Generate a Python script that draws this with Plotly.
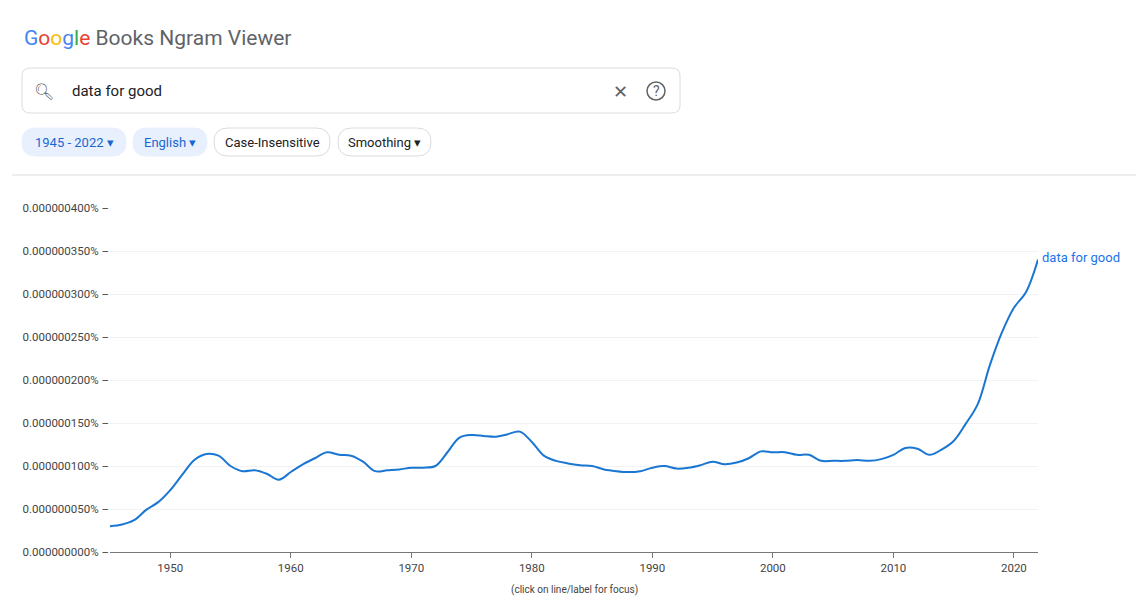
import plotly.graph_objects as go

years = list(range(1945, 2023))
# frequency in units of 1e-9 percent
freq = [30, 32, 37, 49, 58, 72, 90, 107, 114, 112,
        100, 94, 95, 91, 84, 93, 102, 109, 116, 113,
        112, 105, 94, 95, 96, 98, 98, 100, 116, 133,
        136, 135, 134, 137, 140, 128, 112, 106, 103, 101,
        100, 96, 94, 93, 94, 98, 100, 97, 98, 101,
        105, 102, 104, 109, 117, 116, 116, 113, 113, 106,
        106, 106, 107, 106, 108, 113, 121, 120, 113, 119,
        129, 149, 172, 217, 255, 284, 302, 340]
ytick_vals = [0, 50, 100, 150, 200, 250, 300, 350, 400]
ytick_text = ['0.000000%03d%% –' % v if v else '0.000000000% –' for v in ytick_vals]
series_name = 'data for good'

BLUE = '#1a73e8'
OFF = 8  # page body margin
W, H = 1144 - OFF, 610 - OFF
L, R, T, B = 110, 1038, 208, 552


def px(x):
    return (x - L) / (R - L)


def py(y):
    return (B - y) / (B - T)


def rrect(x0, y0, x1, y1, r):
    # rounded rect in pixel coordinates -> paper path
    X0, X1 = px(x0), px(x1)
    Y0, Y1 = py(y0), py(y1)
    rx = r / (R - L)
    ry = r / (B - T)
    return (f'M{X0+rx},{Y0} L{X1-rx},{Y0} Q{X1},{Y0} {X1},{Y0-ry} '
            f'L{X1},{Y1+ry} Q{X1},{Y1} {X1-rx},{Y1} L{X0+rx},{Y1} '
            f'Q{X0},{Y1} {X0},{Y1+ry} L{X0},{Y0-ry} Q{X0},{Y0} {X0+rx},{Y0} Z')


fig = go.Figure(go.Scatter(x=years, y=freq, mode='lines', name=series_name,
                           line=dict(color='#1976d2', width=2, shape='spline'),
                           hoverinfo='skip'))

shapes = [
    dict(type='line', xref='paper', yref='paper', x0=px(12), x1=px(1144), y0=py(175), y1=py(175),
         line=dict(color='#dadce0', width=1)),
    dict(type='path', xref='paper', yref='paper', path=rrect(22, 68, 680, 113, 8),
         line=dict(color='#dadce0', width=1), fillcolor='white'),
    dict(type='circle', xref='paper', yref='paper', x0=px(647), x1=px(665), y0=py(82), y1=py(100),
         line=dict(color='#5f6368', width=1.5)),
]
pills = [('1945 - 2022 ▾', 22, 126, True), ('English ▾', 133, 207, True),
         ('Case-Insensitive', 214, 330, False), ('Smoothing ▾', 338, 431, False)]
annotations = [
    dict(x=px(22), y=py(38), xref='paper', yref='paper', xanchor='left', yanchor='middle', showarrow=False,
         text="<span style='color:#4285F4'>G</span><span style='color:#EA4335'>o</span>"
              "<span style='color:#FBBC05'>o</span><span style='color:#4285F4'>g</span>"
              "<span style='color:#34A853'>l</span><span style='color:#EA4335'>e</span>"
              "<span style='color:#5f6368'> Books Ngram Viewer</span>",
         font=dict(size=21, family='Roboto')),
    dict(x=px(70), y=py(91), xref='paper', yref='paper', xanchor='left', yanchor='middle', showarrow=False,
         text='data for good', font=dict(size=15, family='Roboto', color='#202124')),
    dict(x=px(44), y=py(91), xref='paper', yref='paper', xanchor='center', yanchor='middle', showarrow=False,
         text='🔍︎', font=dict(size=16, color='#5f6368')),
    dict(x=px(620), y=py(91), xref='paper', yref='paper', xanchor='center', yanchor='middle', showarrow=False,
         text='✕', font=dict(size=18, color='#5f6368')),
    dict(x=px(656), y=py(91), xref='paper', yref='paper', xanchor='center', yanchor='middle', showarrow=False,
         text='?', font=dict(size=14, color='#5f6368')),
    dict(x=years[-1], y=freq[-1] + 2, xref='x', yref='y', xanchor='left', yanchor='middle', showarrow=False,
         xshift=2, text=series_name, font=dict(size=13, family='Roboto', color=BLUE)),
    dict(x=px(574), y=py(590), xref='paper', yref='paper', xanchor='center', yanchor='middle', showarrow=False,
         text='(click on line/label for focus)', font=dict(size=10, family='Roboto', color='#444')),
]
for label, x0, x1, active in pills:
    shapes.append(dict(type='path', xref='paper', yref='paper', path=rrect(x0, 128, x1, 156, 14),
                       line=dict(color='#e8f0fe' if active else '#dadce0', width=1),
                       fillcolor='#e8f0fe' if active else 'white'))
    annotations.append(dict(x=px((x0 + x1) / 2), y=py(142), xref='paper', yref='paper', showarrow=False,
                            xanchor='center', yanchor='middle', text=label,
                            font=dict(size=13, family='Roboto', color='#1967d2' if active else '#202124')))

fig.update_layout(
    width=W, height=H, margin=dict(l=L - OFF, r=1144 - R, t=T - OFF, b=610 - B),
    plot_bgcolor='white', paper_bgcolor='white', showlegend=False,
    shapes=shapes, annotations=annotations,
    font=dict(family='Roboto', color='#5f6368'),
    xaxis=dict(range=[1945, 2022], tickvals=list(range(1950, 2021, 10)), showgrid=False,
               showline=True, linecolor='#777', ticks='outside', ticklen=5, tickcolor='#777',
               tickfont=dict(size=11.5, color='#444'), zeroline=False),
    yaxis=dict(range=[0, 400], tickvals=ytick_vals, ticktext=ytick_text, showgrid=True,
               gridcolor='#f2f2f2', zeroline=False, tickfont=dict(size=11.5, color='#444')),
)
fig.write_html('out.html')
